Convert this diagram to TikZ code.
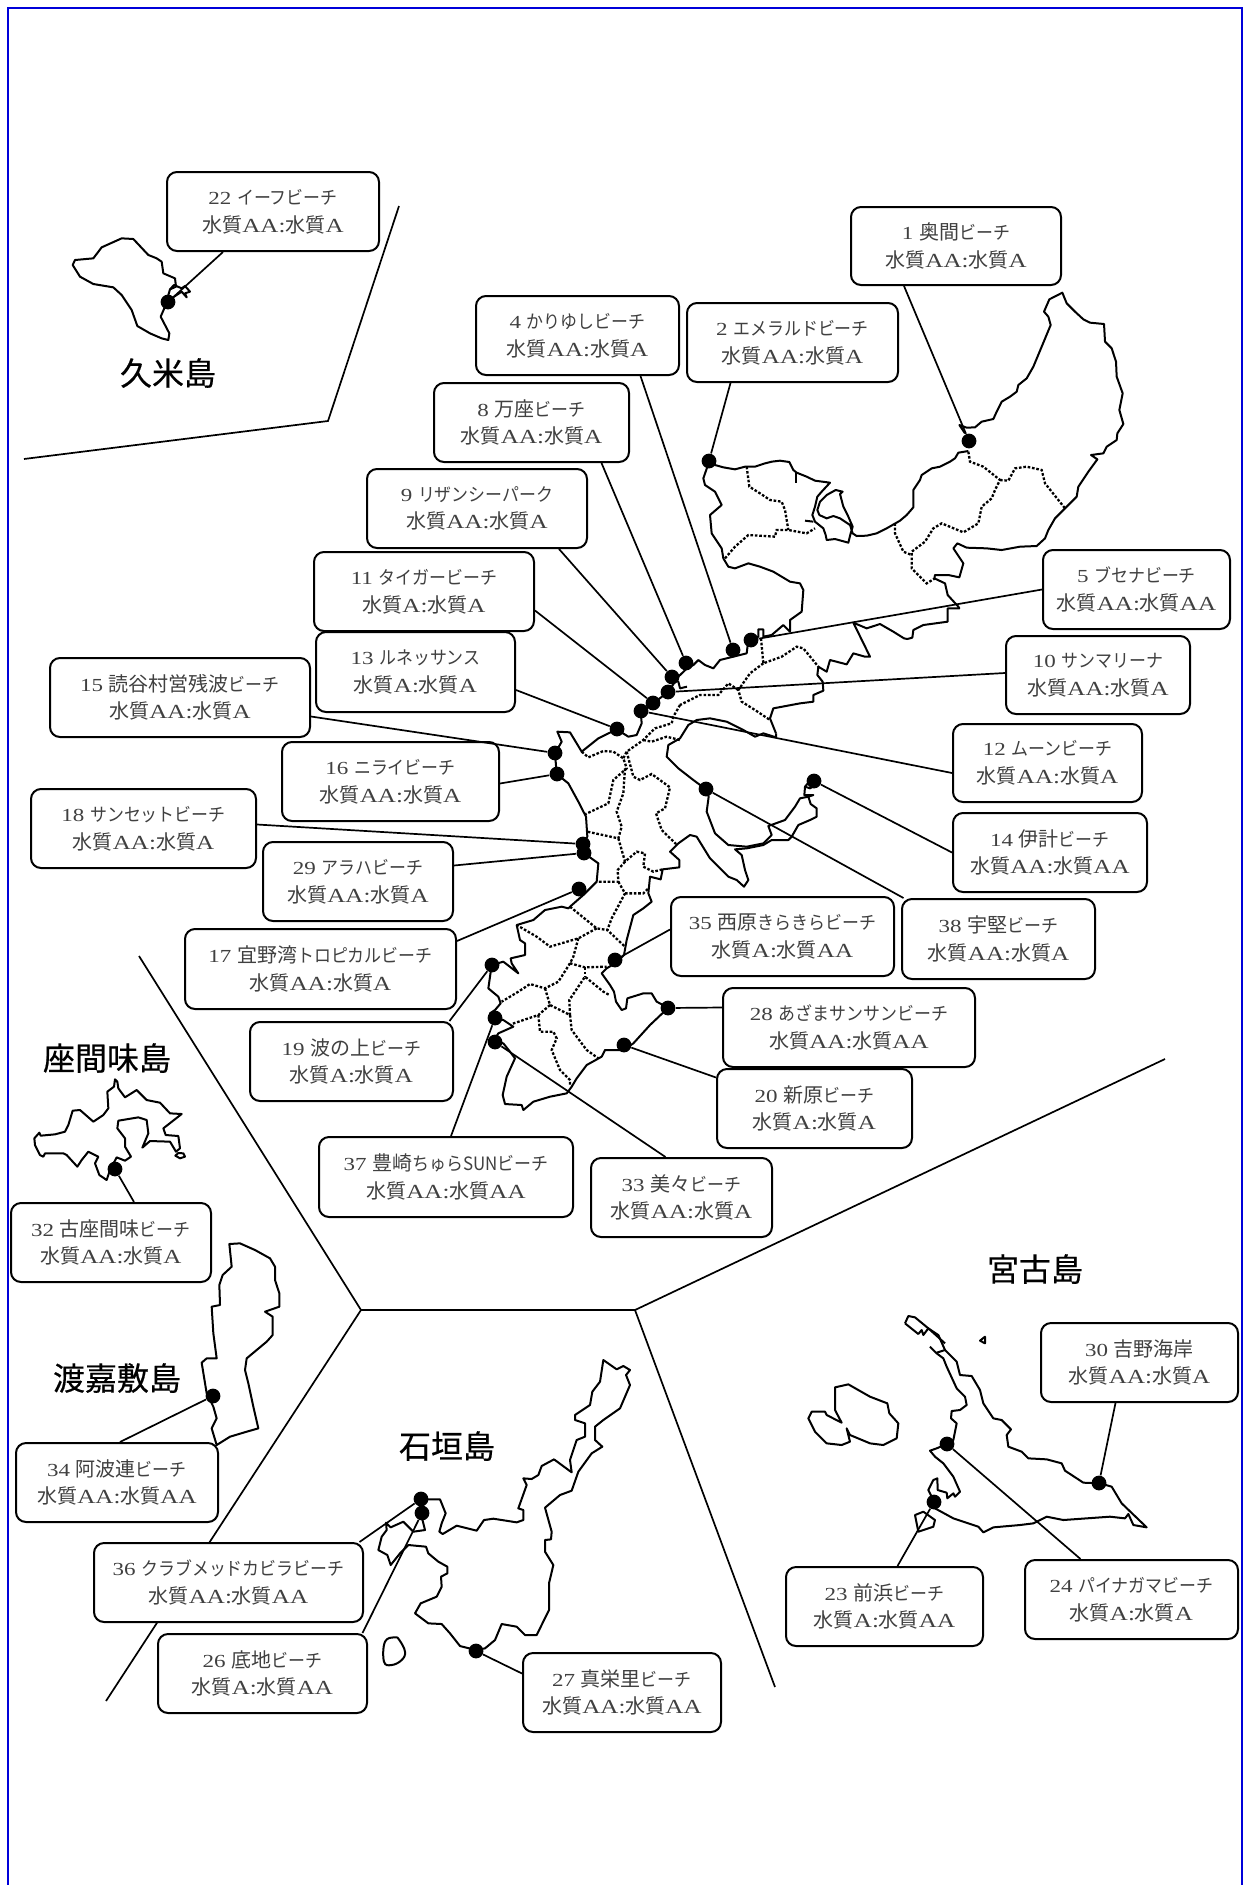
\documentclass[tikz,border=0pt]{standalone}
\usepackage{fontspec}
\newfontfamily\cjkn[FakeStretch=0.92]{Noto Sans CJK JP}
\newfontfamily\cjk{Noto Sans CJK JP}
\newfontfamily\cjkh[FakeBold=0.4]{Noto Sans CJK JP}
\newfontfamily\wide[FakeStretch=1.25]{Liberation Serif}
\newcommand{\K}[1]{{\fontsize{10}{12}\cjk #1}}
\newcommand{\nm}[2]{{\color{black!75}\fontsize{9.2}{11}\wide #1\ \cjkn #2}}
\newcommand{\wq}[2]{{\color{black!75}\fontsize{10}{12}\cjk 水質\wide #1:\cjk 水質\wide #2}}
\newcommand{\bx}[8]{\node[beach,minimum width=(#4-#3)*0.5pt,minimum height=(#6-#5)*0.5pt] (b#1) at ({(#3+#4)/2},{(#5+#6)/2}) {\nm{#1}{#2}\\[1.8pt]\wq{#7}{#8}};}
\newcommand{\dt}[3]{\node[dot] (d#1) at (#2,#3) {};}
\newcommand{\cn}[4]{\draw[link] (d#1) -- ([#3=#4*0.5pt]b#1.#2);}
\tikzset{
 beach/.style={draw=black,line width=1pt,fill=white,rounded corners=5pt,align=center,inner sep=0pt},
 dot/.style={circle,fill=black,minimum size=7.4pt,inner sep=0pt},
 link/.style={draw=black,line width=0.85pt},
 sep/.style={draw=black,line width=0.85pt},
 coast/.style={draw=black,line width=1pt,line join=round},
 town/.style={draw=black,line width=1.15pt,dash pattern=on 1.3pt off 0.9pt},
 title/.style={font=\fontsize{16}{18}\cjkh,inner sep=0pt},
 zA/.style={shift={(680,270)},x=0.16667pt,y=-0.16667pt},
 zB/.style={shift={(470,680)},x=0.16667pt,y=-0.16667pt},
 zC/.style={shift={(0,1040)},x=0.16667pt,y=-0.16667pt},
 zD/.style={shift={(360,1340)},x=0.16667pt,y=-0.16667pt},
 zE/.style={shift={(790,1300)},x=0.16667pt,y=-0.16667pt},
 zF/.style={shift={(50,170)},x=0.16667pt,y=-0.16667pt},
}
\begin{document}
\begin{tikzpicture}[x=0.5pt,y=-0.5pt]
\useasboundingbox (0,0) rectangle (1243,1885);
\fill[white] (0,0) rectangle (1243,1885);
\draw[blue!85!black,line width=1pt] (8,1885) -- (8,8) -- (1242,8) -- (1242,1885);
% separators
\draw[sep] (399,206) -- (328,421) -- (24,459);
\draw[sep] (139,956) -- (361,1310) -- (635,1310) -- (1165,1059);
\draw[sep] (361,1310) -- (106,1701);
\draw[sep] (635,1310) -- (775,1687);
% main island, north
\begin{scope}[zA]
\draw[coast] (20,1195)--(40,1185)--(55,1170)--(75,1185)--(100,1195)--(120,1170)--(160,1160)--(200,1150)--(205,1110)--(213,1110)--(235,1100)--(235,1078)--(250,1078)--(250,1100)--(275,1095)--(310,1065)--(330,1085)--(330,1050)--(365,1025)--(370,960)--(360,940)--(330,935)--(280,905)--(240,890)--(205,880)--(165,895)--(145,890)--(130,865)--(125,835)--(95,790)--(90,735)--(125,705)--(105,665)--(75,645)--(70,625)--(88,573)--(105,585)--(130,592)--(165,598)--(195,590)--(225,590)--(255,580)--(275,575)--(300,572)--(328,576)--(340,600)--(350,608)--(380,620)--(405,632)--(450,638)--(425,665)--(412,680)--(405,710)--(397,735)--(405,755)--(430,775)--(437,795)--(440,810)--(465,807)--(505,818)--(512,790)--(518,770)--(505,740)--(490,710)--(480,672)--(488,665)--(467,660)--(440,675)--(420,695)--(412,720)--(418,735)--(440,745)--(460,738)--(480,745)--(510,765)--(518,790)--(530,798)--(560,797)--(590,790)--(620,775)--(660,752)--(680,735)--(700,712)--(700,660)--(720,630)--(725,615)--(755,595)--(780,590)--(810,575)--(825,565)--(835,548)--(865,543);
\draw[coast] (348,608)--(348,640);
\draw[coast] (375,752)--(400,755);
\draw[coast] (855,490)--(838,465)--(860,473)--(885,472)--(905,455)--(940,447)--(950,425)--(965,395)--(990,380)--(1010,365)--(1015,345)--(1040,325)--(1060,290)--(1085,230)--(1112,165)--(1105,140)--(1092,125)--(1108,88)--(1147,68)--(1160,100)--(1185,125)--(1210,148)--(1230,158)--(1272,162)--(1275,215)--(1295,235)--(1308,275)--(1310,320)--(1328,370)--(1318,420)--(1330,462)--(1312,490)--(1310,510)--(1280,530)--(1270,550)--(1233,555)--(1252,568)--(1225,605)--(1195,650)--(1190,680)--(1155,715)--(1125,745)--(1105,780)--(1095,805)--(1070,828)--(1020,830)--(965,840)--(920,835)--(860,833)--(832,820)--(820,835)--(850,880)--(838,922)--(805,915)--(765,915)--(763,925)--(795,940)--(803,975)--(835,1010)--(838,1015)--(803,1015)--(803,1055)--(730,1065)--(700,1080)--(697,1103)--(682,1107)--(672,1105)--(640,1085)--(600,1062)--(560,1075)--(520,1058)--(570,1160)--(555,1160)--(520,1150)--(500,1183)--(450,1170)--(440,1205)--(415,1190)--(412,1215)--(428,1235)--(430,1262)--(400,1275)--(400,1295)--(360,1300)--(280,1315)--(270,1345)--(288,1390);
\draw[town] (200,590)--(208,650)--(240,670)--(270,690)--(305,695)--(315,720)--(325,780);
\draw[town] (135,865)--(165,830)--(205,795)--(285,800)--(290,780)--(325,780)--(380,790)--(405,775);
\draw[town] (865,545)--(870,575)--(910,590)--(960,630)--(945,660)--(935,685)--(905,710)--(895,760)--(850,787)--(785,760)--(760,775)--(735,815)--(695,845)--(695,895)--(740,940)--(765,925);
\draw[town] (645,760)--(645,790)--(670,845)--(695,855);
\draw[town] (960,630)--(985,632)--(1005,595)--(1040,590)--(1085,600)--(1095,640)--(1155,715);
\draw[town] (243,1105)--(250,1180)--(305,1160)--(350,1130)--(370,1135)--(415,1190);
\draw[town] (250,1180)--(210,1210)--(175,1260)--(185,1295)--(225,1320)--(270,1350);
\draw[town] (175,1260)--(145,1240)--(115,1275)--(60,1275)--(0,1305);
\end{scope}
% main island, south
\begin{scope}[zB]
\draw[coast] (651,20)--(630,25)--(625,5)--(605,0);
\draw[coast] (651,-35)--(625,-10)--(595,35)--(550,70)--(512,95)--(515,130)--(500,165)--(475,170)--(440,148)--(385,175)--(335,215)--(320,190)--(300,157)--(262,155)--(275,185)--(255,220)--(260,282)--(295,310)--(325,365)--(348,410)--(352,470)--(338,490)--(343,520)--(385,550)--(380,605)--(340,645)--(300,680)--(295,685)--(275,680)--(225,690)--(190,720)--(140,735)--(150,780)--(165,790)--(165,825)--(122,835)--(125,850)--(145,880)--(100,845)--(65,855)--(55,925)--(85,950)--(92,970)--(75,990)--(60,1000)--(75,1013)--(100,1020)--(130,1040)--(85,1060)--(70,1085)--(100,1090)--(120,1115)--(135,1135)--(110,1190)--(98,1245)--(105,1272)--(155,1275)--(160,1290)--(190,1265)--(240,1250)--(290,1240)--(305,1220)--(320,1195)--(350,1155)--(395,1130)--(405,1110)--(460,1110)--(490,1090)--(540,1035)--(595,983)--(560,965)--(545,940)--(520,940)--(472,955)--(468,985)--(455,990)--(438,965)--(432,935)--(420,915)--(395,880)--(410,865)--(435,850)--(462,825)--(470,780)--(490,705)--(520,685)--(545,665)--(535,640)--(540,590)--(572,598)--(578,568)--(628,562)--(628,540)--(600,515)--(625,490)--(660,465)--(680,470)--(720,535)--(775,590)--(800,600)--(822,620)--(835,600)--(825,570)--(815,525)--(795,508)--(830,505)--(880,495)--(905,480)--(955,480)--(965,470)--(985,435)--(1020,420)--(1040,410)--(1040,385)--(1022,372)--(1015,350)--(1030,345)--(1003,345)--(1005,320)--(1030,290);
\draw[coast] (1030,290)--(1045,310)--(1020,325)--(1005,320);
\draw[coast] (708,328)--(670,300)--(625,265)--(590,230)--(595,195)--(630,175)--(655,135)--(680,120)--(720,115)--(770,125)--(820,150)--(855,170)--(880,160)--(918,172)--(918,160);
\draw[coast] (708,328)--(716,350)--(710,395)--(735,460)--(775,495)--(830,500)--(880,490)--(905,465)--(895,438)--(945,420)--(975,380)--(990,355)--(1015,350);
\draw[town] (630,75)--(610,110)--(605,130)--(555,145)--(520,180)--(470,215)--(460,235);
\draw[town] (520,180)--(545,185)--(590,170)--(630,180);
\draw[town] (335,215)--(355,232)--(400,213)--(430,215)--(460,235)--(470,265)--(430,300)--(415,370)--(345,403);
\draw[town] (470,215)--(490,290)--(510,300)--(545,282)--(600,322)--(585,385)--(558,400)--(575,450)--(618,492);
\draw[town] (465,265)--(460,340)--(440,395)--(455,440)--(445,475)--(352,455);
\draw[town] (445,475)--(465,545)--(500,515)--(525,520)--(520,560)--(550,575)--(578,568);
\draw[town] (465,545)--(443,570)--(445,605)--(380,605);
\draw[town] (445,605)--(465,640)--(425,715)--(412,750)--(465,800);
\draw[town] (465,640)--(520,640)--(535,625);
\draw[town] (300,680)--(380,745)--(412,750);
\draw[town] (380,745)--(325,775)--(240,800)--(200,770)--(140,735);
\draw[town] (325,775)--(310,830)--(300,850)--(345,862)--(410,860);
\draw[town] (300,850)--(265,905)--(225,925)--(180,912)--(145,935)--(95,965);
\draw[town] (225,925)--(240,975)--(300,1005)--(298,960)--(345,890)--(400,935)--(418,945);
\draw[town] (345,862)--(345,890);
\draw[town] (240,975)--(205,1005)--(125,1032);
\draw[town] (205,1005)--(210,1055)--(250,1055)--(260,1075)--(245,1110)--(270,1170)--(300,1200)--(300,1215);
\draw[town] (300,1005)--(305,1050)--(350,1110)--(385,1135);
\end{scope}
% Kume
\begin{scope}[zF]
\draw[coast] (355,510)--(335,505)--(300,490)--(262,468)--(245,420)--(215,375)--(190,352)--(130,342)--(90,320)--(68,285)--(75,270)--(130,265)--(155,232)--(215,205)--(250,207)--(295,255)--(320,265)--(335,275)--(340,310)--(375,325)--(378,350)--(360,358)--(355,375)--(345,410)--(332,440)--(345,465)--(358,490)--cycle;
\draw[coast] (360,358)--(372,345)--(395,355)--(405,348)--(420,365)--(405,370)--(410,382)--(395,365)--(365,385);
\end{scope}
% Zamami and Tokashiki
\begin{scope}[zC]
\draw[coast] (103,295)--(118,278)--(122,287)--(165,283)--(195,275)--(205,255)--(218,212)--(240,210)--(280,245)--(310,225)--(325,205)--(322,155)--(342,140)--(345,118)--(352,125)--(355,145)--(375,172)--(410,150)--(440,180)--(480,188)--(510,220)--(545,222)--(490,265)--(497,285)--(535,288)--(540,325)--(528,335)--(510,305)--(450,303)--(427,323)--(445,280)--(440,240)--(415,232)--(355,242)--(352,265)--(375,295)--(375,320)--(393,350)--(375,362)--(350,352)--(330,390)--(320,420)--(298,405)--(285,370)--(295,350)--(265,335)--(245,360)--(232,380)--(200,345)--(190,340)--(135,340)--(130,350)--(120,345)--(105,315)--cycle;
\draw[coast] (526,347)--(535,339)--(550,340)--(555,350)--(540,355)--cycle;
\draw[coast] (688,612)--(720,610)--(765,630)--(810,655)--(825,680)--(825,720)--(838,760)--(838,800)--(795,815)--(818,830)--(818,885)--(800,905)--(740,955)--(735,990)--(745,1030)--(760,1100)--(775,1165)--(740,1175)--(690,1190)--(650,1215)--(635,1165)--(650,1135)--(640,1100)--(620,1060)--(605,968)--(620,955)--(650,955)--(640,880)--(635,800)--(660,795)--(658,735)--(668,705)--(695,680)--cycle;
\end{scope}
% Ishigaki
\begin{scope}[zD]
\draw[coast] (200,478)--(240,478)--(257,520)--(245,550)--(238,575)--(248,582)--(290,557)--(350,572)--(372,540)--(400,536)--(470,547)--(490,540)--(490,510)--(475,505)--(500,435)--(490,415)--(515,417)--(535,405)--(545,378)--(582,358)--(635,397)--(630,360)--(650,300)--(675,290)--(675,250)--(645,240)--(645,225)--(690,195)--(697,155)--(720,125)--(730,60)--(770,88)--(790,78)--(810,90)--(798,105)--(810,135)--(780,205)--(730,240)--(705,260)--(705,300)--(727,320)--(695,340)--(655,395)--(635,452)--(600,465)--(555,503)--(575,575)--(573,598)--(555,600)--(555,635)--(580,675)--(567,730)--(567,810)--(530,885)--(495,885)--(470,860)--(425,852)--(405,900)--(375,925)--(347,930)--(300,918)--(270,880)--(245,852)--(205,850)--(165,820)--(182,790)--(230,770)--(245,740)--(243,710)--(262,700)--(262,680)--(235,665)--(205,640)--(198,620)--(145,615)--(120,640)--(92,675)--(82,645)--(55,630)--(65,590)--(80,570)--(78,548)--(92,562)--(130,545)--(160,575)--(195,570)--(185,530)--(205,510);
\draw[coast] plot[smooth cycle,tension=0.7] coordinates {(75,905)(105,892)(118,900)(135,935)(125,960)(95,975)(72,965)};
\end{scope}
% Miyako
\begin{scope}[zE]
\draw[coast] (345,70)--(355,48)--(375,52)--(415,85)--(445,105)--(465,150)--(500,185)--(510,225)--(545,228)--(570,270)--(580,310)--(610,355)--(635,360)--(663,388)--(650,405)--(655,440)--(695,455)--(715,475)--(770,478)--(815,490)--(825,512)--(880,548)--(930,550)--(965,560)--(995,610)--(1070,682)--(1030,675)--(1015,642)--(1005,655)--(960,650)--(820,660)--(770,650)--(730,670)--(690,675)--(610,682)--(580,697)--(565,680)--(490,655)--(435,625)--(433,606)--(415,570)--(430,540)--(442,535)--(443,570)--(470,578)--(472,595)--(490,580)--(495,590)--(510,575)--(490,530)--(460,490)--(435,470)--(420,452)--(440,445)--(470,432)--(490,420)--(500,370)--(483,355)--(485,333)--(510,330)--(530,315)--(525,290)--(500,265)--(470,200)--(460,175)--(440,160)--(420,140);
\draw[coast] (345,70)--(385,102)--(395,90)--(400,105)--(415,85)--(465,130);
\draw[coast] (440,158)--(465,150);
\draw[coast] (135,262)--(175,253)--(240,290)--(292,310)--(298,340)--(325,370)--(320,415)--(280,435)--(240,430)--(180,405)--(170,385)--(180,425)--(155,435)--(110,430)--(75,395)--(55,355)--(65,335)--(105,335)--(110,345)--(155,368)--(135,330)--cycle;
\draw[coast] (570,122)--(585,110)--(585,130)--cycle;
\draw[coast] (385,695)--(375,645)--(400,635)--(435,660)--(430,680)--cycle;
\end{scope}
% dots
\dt{22}{168}{302}\dt{1}{969}{441}\dt{2}{709}{461}\dt{4}{733}{650}\dt{5}{751}{640}\dt{8}{686}{663}
\dt{9}{672}{677}\dt{10}{668}{692}\dt{11}{653}{703}\dt{12}{641}{711}\dt{13}{617}{729}\dt{15}{555}{753}
\dt{16}{557}{774}\dt{18}{583}{844}\dt{29}{584}{853}\dt{17}{579}{889}\dt{35}{615}{960}\dt{19}{492}{965}
\dt{37}{495}{1018}\dt{33}{495}{1042}\dt{28}{668}{1008}\dt{20}{624}{1045}\dt{38}{706}{789}\dt{14}{814}{781}
\dt{32}{115}{1169}\dt{34}{213}{1396}\dt{36}{421}{1499}\dt{26}{422}{1513}\dt{27}{476}{1651}
\dt{30}{1099}{1483}\dt{24}{947}{1444}\dt{23}{934}{1502}
% boxes
\bx{22}{イーフビーチ}{167}{379}{172}{251}{AA}{A}
\bx{1}{\K{奥間}ビーチ}{851}{1061}{207}{285}{AA}{A}
\bx{4}{かりゆしビーチ}{476}{679}{296}{375}{AA}{A}
\bx{2}{エメラルドビーチ}{687}{898}{303}{382}{AA}{A}
\bx{8}{\K{万座}ビーチ}{434}{629}{383}{462}{AA}{A}
\bx{9}{リザンシーパーク}{367}{587}{469}{548}{AA}{A}
\bx{11}{タイガービーチ}{314}{534}{552}{631}{A}{A}
\bx{5}{ブセナビーチ}{1043}{1230}{550}{629}{AA}{AA}
\bx{13}{ルネッサンス}{316}{515}{632}{712}{A}{A}
\bx{10}{サンマリーナ}{1006}{1190}{636}{714}{AA}{A}
\bx{15}{\K{読谷村営残波}ビーチ}{50}{310}{658}{737}{AA}{A}
\bx{12}{ムーンビーチ}{953}{1142}{724}{802}{AA}{A}
\bx{16}{ニライビーチ}{282}{499}{742}{821}{AA}{A}
\bx{14}{\K{伊計}ビーチ}{953}{1147}{813}{892}{AA}{AA}
\bx{18}{サンセットビーチ}{31}{256}{789}{868}{AA}{A}
\bx{29}{アラハビーチ}{263}{453}{842}{921}{AA}{A}
\bx{38}{\K{宇堅}ビーチ}{902}{1095}{899}{979}{AA}{A}
\bx{35}{\K{西原}きらきらビーチ}{671}{894}{897}{976}{A}{AA}
\bx{17}{\K{宜野湾}トロピカルビーチ}{185}{456}{929}{1009}{AA}{A}
\bx{28}{あざまサンサンビーチ}{723}{975}{988}{1067}{AA}{AA}
\bx{19}{\K{波の上}ビーチ}{250}{453}{1022}{1101}{A}{A}
\bx{20}{\K{新原}ビーチ}{717}{912}{1069}{1148}{A}{A}
\bx{37}{\K{豊崎}ちゅらSUNビーチ}{319}{573}{1137}{1217}{AA}{AA}
\bx{33}{\K{美々}ビーチ}{591}{772}{1158}{1237}{AA}{A}
\bx{32}{\K{古座間味}ビーチ}{11}{211}{1203}{1282}{AA}{A}
\bx{34}{\K{阿波連}ビーチ}{16}{218}{1443}{1522}{AA}{AA}
\bx{36}{クラブメッドカビラビーチ}{94}{363}{1543}{1622}{AA}{AA}
\bx{26}{\K{底地}ビーチ}{158}{367}{1634}{1713}{A}{AA}
\bx{27}{\K{真栄里}ビーチ}{523}{721}{1653}{1732}{AA}{AA}
\bx{30}{\K{吉野海岸}}{1041}{1238}{1323}{1402}{AA}{A}
\bx{23}{\K{前浜}ビーチ}{786}{983}{1567}{1646}{A}{AA}
\bx{24}{パイナガマビーチ}{1025}{1238}{1560}{1639}{A}{A}
% connectors
\cn{22}{south}{xshift}{-50}
\cn{1}{south}{xshift}{-52}
\cn{2}{south}{xshift}{-62}
\cn{4}{south}{xshift}{63}
\cn{5}{west}{yshift}{0}
\cn{8}{south}{xshift}{70}
\cn{9}{south}{xshift}{82}
\cn{10}{west}{yshift}{2}
\cn{11}{east}{yshift}{-19}
\cn{12}{west}{yshift}{-10}
\cn{13}{east}{yshift}{-18}
\cn{14}{west}{yshift}{0}
\cn{15}{east}{yshift}{-19}
\cn{16}{east}{yshift}{-2}
\cn{18}{east}{yshift}{4}
\cn{29}{east}{yshift}{16}
\cn{17}{east}{yshift}{28}
\cn{35}{west}{yshift}{7}
\cn{19}{north}{xshift}{98}
\cn{37}{north}{xshift}{5}
\cn{33}{north}{xshift}{-16}
\cn{38}{north}{xshift}{-95}
\cn{28}{west}{yshift}{20}
\cn{20}{west}{yshift}{31}
\cn{32}{north}{xshift}{23}
\cn{34}{north}{xshift}{3}
\cn{36}{north}{xshift}{131}
\cn{26}{north}{xshift}{100}
\cn{27}{west}{yshift}{19}
\cn{30}{south}{xshift}{-24}
\cn{24}{north}{xshift}{-51}
\cn{23}{north}{xshift}{13}
% titles
\node[title] (t1) at (168,373) {久米島};
\node[title] (t2) at (107,1058) {座間味島};
\node[title] (t3) at (117,1378) {渡嘉敷島};
\node[title] (t4) at (447,1446) {石垣島};
\node[title] (t5) at (1035,1269) {宮古島};
\end{tikzpicture}
\end{document}
